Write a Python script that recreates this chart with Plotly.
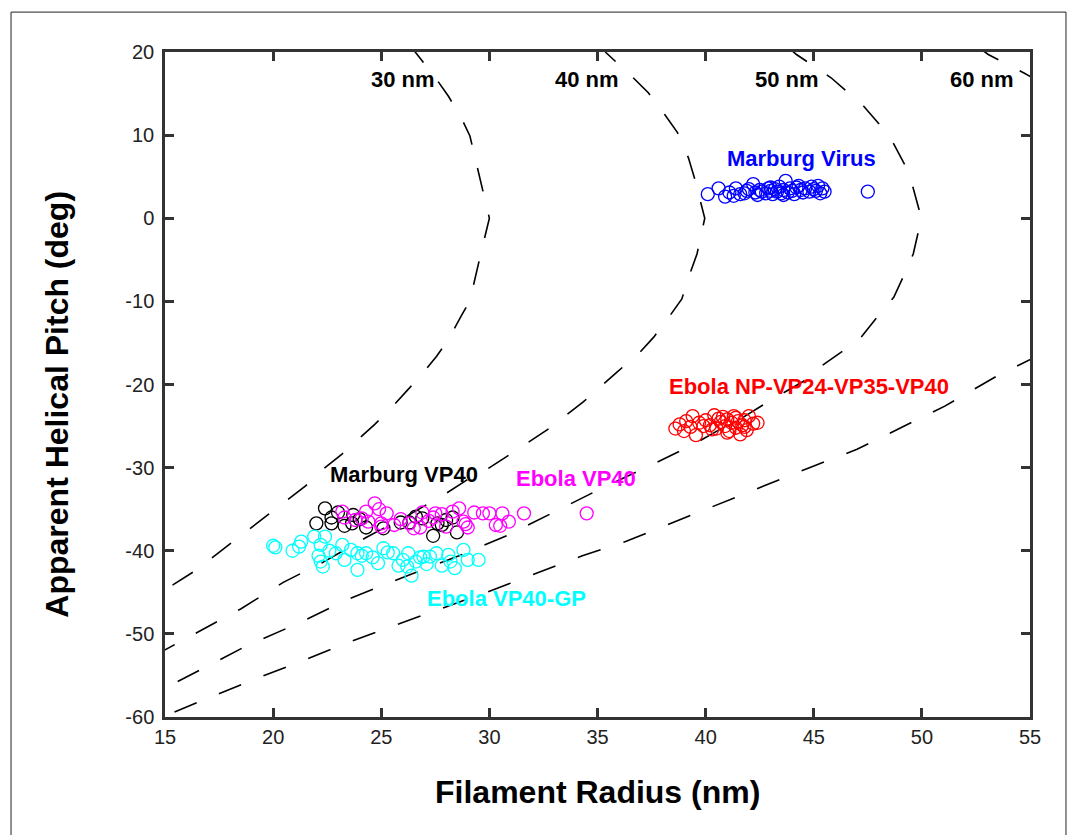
import plotly.graph_objects as go

# ---------------- data ----------------
# constant-diameter guide curves
c30_x = [26.27, 26.6, 27.56, 28.1, 28.7, 29.1, 29.4, 29.6, 30.0, 29.6, 29.4, 29.1, 28.7, 28.1, 27.56, 26.87,
         26.17, 25.4, 24.7, 23.86, 23.17, 22.3, 21.5, 20.6, 19.8, 18.9, 18.1, 17.2, 16.4, 15.0, 14.8]
c30_y = [21.0, 19.9, 16.7, 14.7, 12.1, 9.9, 6.7, 4.3, 0.0, -4.3, -6.7, -9.9, -11.75, -14.6, -16.6, -18.8,
         -20.8, -23.0, -24.8, -26.8, -28.4, -30.2, -32.2, -34.0, -35.6, -37.4, -39.0, -40.8, -42.4, -44.7, -45.1]

c40_x = [35.1, 35.4, 36.65, 37.35, 38.1, 38.7, 39.2, 39.5, 39.96, 39.6, 39.27, 38.9, 38.3, 37.6, 36.9, 35.9,
         34.34, 33.57, 32.65, 31.72, 30.8, 29.95, 28.95, 28.0, 26.2, 24.3, 22.3, 20.47, 18.5, 16.5, 15.0, 14.8]
c40_y = [21.0, 19.9, 16.9, 15.1, 12.5, 10.3, 7.3, 4.7, 0.0, -4.3, -6.7, -9.7, -11.9, -14.3, -16.3, -18.5,
         -22.1, -23.7, -25.5, -27.1, -28.7, -30.1, -31.5, -33.1, -35.8, -38.4, -41.4, -43.8, -47.0, -49.8, -51.9, -52.2]

c50_x = [43.8, 44.2, 45.8, 47.3, 48.5, 49.4, 49.98, 49.6, 49.2, 48.7, 48.2, 47.1, 45.4, 44.6, 43.0, 41.7,
         40.8, 39.3, 37.4, 35.1, 32.95, 30.8, 28.6, 26.2, 23.5, 21.1, 18.8, 16.6, 15.0, 14.8]
c50_y = [20.6, 19.7, 16.9, 13.5, 9.9, 5.5, 0.0, -4.3, -6.7, -9.5, -11.0, -14.6, -17.7, -19.5, -21.9, -24.0,
         -25.2, -27.4, -29.8, -32.6, -35.4, -38.2, -40.6, -43.0, -45.8, -48.8, -51.4, -54.4, -56.5, -56.8]

c60_top_x = [52.6, 53.07, 54.7, 55.4]
c60_top_y = [20.6, 19.7, 17.5, 16.5]
c60_bot_x = [55.4, 53.45, 51.06, 49.0, 47.0, 44.8, 42.7, 40.6, 38.5, 36.3, 34.3, 32.1, 29.87, 25.6, 23.5,
             21.4, 19.2, 17.1, 15.4, 14.8]
c60_bot_y = [-16.5, -19.0, -22.6, -25.2, -27.8, -30.0, -32.2, -34.4, -36.6, -38.9, -40.6, -42.8, -45.0, -49.0,
             -51.0, -53.2, -55.4, -57.6, -59.4, -60.1]

curve_labels = ["30 nm", "40 nm", "50 nm", "60 nm"]
curve_label_x = [26.0, 34.5, 43.75, 52.8]
curve_label_y = [16.7, 16.7, 16.7, 16.7]

# Marburg Virus
mv_x = [40.1, 40.6, 40.9, 41.1, 41.3, 41.4, 41.6, 41.8, 42.0, 42.2, 42.3, 42.5, 42.6, 42.8, 42.9, 43.0,
        43.1, 43.2, 43.3, 43.4, 43.5, 43.6, 43.7, 43.8, 43.9, 44.0, 44.1, 44.2, 44.4, 44.5, 44.6, 44.8,
        44.9, 45.0, 45.1, 45.2, 45.3, 45.4, 45.5, 47.5, 42.4, 43.0, 43.6, 44.3, 41.9]
mv_y = [2.9, 3.6, 2.6, 3.1, 2.7, 3.6, 2.9, 3.0, 3.5, 4.1, 3.1, 3.4, 3.2, 3.0, 3.6, 3.3,
        2.9, 3.5, 3.2, 3.8, 3.0, 3.4, 4.5, 3.1, 3.6, 3.3, 2.9, 3.7, 3.4, 3.1, 3.6, 3.2,
        3.8, 3.5, 3.3, 3.9, 3.0, 3.6, 3.2, 3.2, 2.8, 3.7, 2.8, 3.9, 3.3]

# Ebola NP-VP24-VP35-VP40
np_x = [38.6, 38.8, 39.0, 39.1, 39.3, 39.4, 39.55, 39.7, 39.9, 40.0, 40.2, 40.4, 40.5, 40.7, 40.8, 40.9,
        41.0, 41.1, 41.2, 41.3, 41.4, 41.5, 41.6, 41.7, 41.8, 41.9, 42.0, 42.2, 42.4, 40.3, 40.6, 41.0,
        41.4, 41.8]
np_y = [-25.3, -24.8, -25.6, -24.4, -25.1, -23.8, -26.1, -24.6, -25.0, -24.3, -24.9, -23.7, -25.3, -24.5,
        -23.9, -25.0, -24.2, -25.6, -24.6, -23.8, -25.2, -24.4, -26.0, -24.9, -24.3, -25.5, -23.8, -24.7,
        -24.6, -25.4, -24.1, -25.8, -24.0, -25.1]

# Marburg VP40
mvp_x = [22.0, 22.4, 22.7, 23.0, 23.3, 23.65, 23.7, 24.0, 25.1, 25.9, 26.3, 26.6, 26.9, 27.4, 27.6, 27.8,
         28.0, 28.3, 28.5, 22.7, 24.3]
mvp_y = [-36.7, -34.9, -36.7, -35.4, -37.0, -36.7, -35.7, -36.2, -37.3, -36.6, -36.6, -35.9, -36.1, -38.2,
         -36.7, -36.9, -36.3, -36.0, -37.8, -36.0, -37.2]

# Ebola VP40
evp_x = [23.2, 23.3, 23.8, 24.1, 24.3, 24.7, 24.9, 25.0, 25.25, 25.6, 25.9, 26.3, 26.5, 26.9, 27.2, 27.5,
         27.8, 28.0, 28.3, 28.6, 28.9, 29.0, 29.3, 29.7, 30.0, 30.3, 30.6, 30.9, 31.6, 34.5, 24.4, 25.0,
         26.8, 27.4, 28.8, 30.5]
evp_y = [-35.3, -36.0, -36.3, -36.1, -35.3, -34.3, -35.0, -36.7, -35.5, -36.9, -36.2, -36.7, -37.3, -35.4,
         -36.4, -35.5, -35.6, -37.1, -35.3, -34.9, -36.8, -37.2, -35.4, -35.5, -35.5, -36.9, -35.5, -36.5,
         -35.5, -35.5, -36.5, -37.1, -37.2, -36.0, -36.5, -37.0]

# Ebola VP40-GP
gp_x = [20.0, 20.1, 20.9, 21.3, 21.2, 21.9, 22.1, 22.2, 22.2, 22.3, 22.4, 22.6, 22.9, 23.2, 23.3, 23.6,
        23.9, 23.9, 24.1, 24.3, 24.6, 24.85, 25.1, 25.3, 25.55, 25.8, 26.0, 26.2, 26.25, 26.4, 26.6, 26.8,
        26.95, 27.1, 27.25, 27.55, 27.8, 28.1, 28.2, 28.4, 28.8, 29.0, 29.5]
gp_y = [-39.4, -39.6, -40.0, -38.9, -39.5, -38.3, -40.6, -39.3, -41.3, -41.9, -38.3, -40.0, -40.3, -39.3,
        -41.1, -39.9, -40.3, -42.3, -40.6, -40.3, -40.8, -41.5, -39.7, -40.2, -40.3, -41.8, -41.1, -41.9,
        -40.3, -43.0, -41.3, -40.8, -40.7, -41.6, -40.7, -40.3, -41.8, -40.5, -41.3, -42.1, -39.9, -41.1,
        -41.1]

series_names = ["Marburg Virus", "Ebola NP-VP24-VP35-VP40", "Marburg VP40", "Ebola VP40", "Ebola VP40-GP"]
series_colors = ["#0000FF", "#FF0000", "#000000", "#FF00FF", "#00FFFF"]
series_label_x = [44.45, 44.8, 26.05, 34.0, 30.8]
series_label_y = [7.2, -20.3, -30.8, -31.3, -45.7]

x_ticks = [15, 20, 25, 30, 35, 40, 45, 50, 55]
y_ticks = [-60, -50, -40, -30, -20, -10, 0, 10, 20]

# ---------------- figure ----------------
FONT = "Liberation Sans, Arial, sans-serif"
fig = go.Figure()

dash = "24px,24px"
for cx, cy in [(c30_x, c30_y), (c40_x, c40_y), (c50_x, c50_y), (c60_top_x, c60_top_y), (c60_bot_x, c60_bot_y)]:
    fig.add_trace(go.Scatter(x=cx, y=cy, mode="lines", showlegend=False, hoverinfo="skip",
                             line=dict(color="black", width=1.6, dash=dash)))

series = [(mv_x, mv_y), (np_x, np_y), (mvp_x, mvp_y), (evp_x, evp_y), (gp_x, gp_y)]
for (sx, sy), name, col in zip(series, series_names, series_colors):
    fig.add_trace(go.Scatter(x=sx, y=sy, mode="markers", name=name, showlegend=False,
                             marker=dict(symbol="circle-open", size=13, color=col,
                                         line=dict(color=col, width=1.3))))

for txt, lx, ly in zip(curve_labels, curve_label_x, curve_label_y):
    fig.add_annotation(x=lx, y=ly, text=txt, showarrow=False, xref="x", yref="y",
                       font=dict(family=FONT, size=22, color="black", weight="bold"))

for txt, lx, ly, col in zip(series_names, series_label_x, series_label_y, series_colors):
    fig.add_annotation(x=lx, y=ly, text=txt, showarrow=False, xref="x", yref="y",
                       font=dict(family=FONT, size=22, color=col, weight="bold"))

# axis titles
fig.add_annotation(x=0.5, y=-0.113, xref="paper", yref="paper", text="Filament Radius (nm)",
                   showarrow=False, xanchor="center", yanchor="middle",
                   font=dict(family=FONT, size=32, color="black", weight="bold"))
fig.add_annotation(x=-0.125, y=0.471, xref="paper", yref="paper", text="Apparent Helical Pitch (deg)",
                   showarrow=False, xanchor="center", yanchor="middle", textangle=-90,
                   font=dict(family=FONT, size=32, color="black", weight="bold"))

# outer frame
fig.add_shape(type="rect", xref="paper", yref="paper", x0=-0.178, x1=1.0416, y0=-0.2, y1=1.06,
              line=dict(color="#222", width=1), fillcolor="rgba(0,0,0,0)", layer="below")

axis_common = dict(showgrid=False, zeroline=False, showline=True, linewidth=2.5, linecolor="#333",
                   mirror="ticks", ticks="inside", ticklen=9, tickwidth=2.5, tickcolor="#333",
                   tickfont=dict(family=FONT, size=20, color="#222"))
fig.update_xaxes(range=[15, 55], tickvals=x_ticks, ticktext=[str(v) for v in x_ticks],
                 ticklabelstandoff=0, **axis_common)
fig.update_yaxes(range=[-60, 20], tickvals=y_ticks, ticktext=[str(v) for v in y_ticks],
                 ticklabelstandoff=4, **axis_common)

# page has an 8px body margin, so the plot area is shifted back by that amount
fig.update_layout(width=1069, height=827, margin=dict(l=157, r=47, t=44, b=118),
                  paper_bgcolor="white", plot_bgcolor="white", showlegend=False)

fig.write_html("out.html")
